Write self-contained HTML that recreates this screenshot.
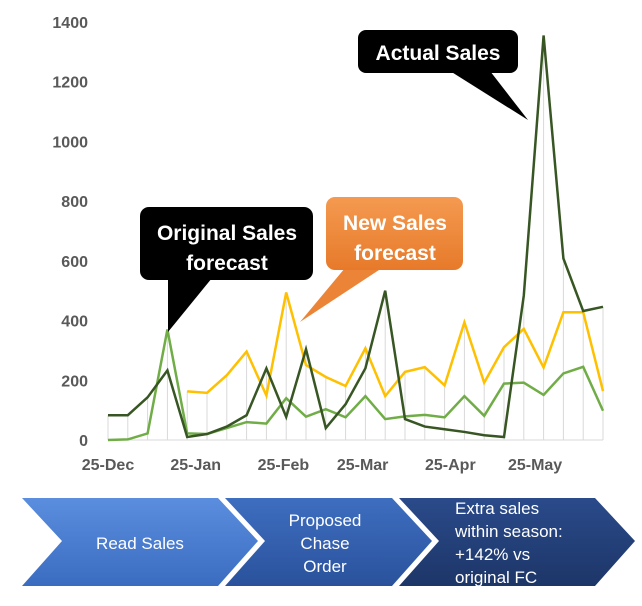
<!DOCTYPE html>
<html><head><meta charset="utf-8"><style>
body{margin:0;background:#fff;}
svg{display:block;font-family:"Liberation Sans",sans-serif;}
</style></head><body>
<svg id="c" width="642" height="606" viewBox="0 0 642 606">
<defs>
<linearGradient id="gb1" x1="0" y1="0" x2="0" y2="1"><stop offset="0" stop-color="#5b8ede"/><stop offset="1" stop-color="#3a6cc0"/></linearGradient>
<linearGradient id="gb2" x1="0" y1="0" x2="0" y2="1"><stop offset="0" stop-color="#3e6ec0"/><stop offset="1" stop-color="#2a529c"/></linearGradient>
<linearGradient id="gb3" x1="0" y1="0" x2="0" y2="1"><stop offset="0" stop-color="#2a4a8a"/><stop offset="1" stop-color="#1d3668"/></linearGradient>
<linearGradient id="go" x1="0" y1="0" x2="0" y2="1"><stop offset="0" stop-color="#f49a50"/><stop offset="1" stop-color="#e77a2a"/></linearGradient>
</defs>
<g id="grid"></g>
<g id="axes"></g>
<g id="series"></g>

<g>
<path d="M168,278 L168,332 L212,278 Z" fill="#000"/>
<rect x="140" y="207" width="173" height="73" rx="9" fill="#000"/>
<text x="227" y="240" fill="#fff" font-size="21" font-weight="bold" text-anchor="middle">Original Sales</text>
<text x="227" y="270" fill="#fff" font-size="21" font-weight="bold" text-anchor="middle">forecast</text>
</g>
<g>
<path d="M345,268 L300,322 L382,268 Z" fill="#ec8437"/>
<rect x="326" y="197" width="137" height="73" rx="9" fill="url(#go)"/>
<text x="395" y="230" fill="#fff" font-size="21" font-weight="bold" text-anchor="middle">New Sales</text>
<text x="395" y="260" fill="#fff" font-size="21" font-weight="bold" text-anchor="middle">forecast</text>
</g>
<g>
<path d="M450,71 L528,120 L490,71 Z" fill="#000"/>
<rect x="358" y="30" width="160" height="43" rx="8" fill="#000"/>
<text x="438" y="60" fill="#fff" font-size="21" font-weight="bold" text-anchor="middle">Actual Sales</text>
</g>

<g>
<path d="M22,498 L218,498 L258,541 L218,586 L22,586 L62,541 Z" fill="url(#gb1)"/>
<path d="M225,498 L392,498 L432,541 L392,586 L225,586 L265,541 Z" fill="url(#gb2)"/>
<path d="M399,498 L595,498 L635,541 L595,586 L399,586 L439,541 Z" fill="url(#gb3)"/>
<text x="140" y="549" fill="#fff" font-size="17" text-anchor="middle">Read Sales</text>
<text x="325" y="526" fill="#fff" font-size="17" text-anchor="middle">Proposed</text>
<text x="325" y="549" fill="#fff" font-size="17" text-anchor="middle">Chase</text>
<text x="325" y="572" fill="#fff" font-size="17" text-anchor="middle">Order</text>
<text x="455" y="514" fill="#fff" font-size="17">Extra sales</text>
<text x="455" y="537" fill="#fff" font-size="17">within season:</text>
<text x="455" y="560" fill="#fff" font-size="17">+142% vs</text>
<text x="455" y="583" fill="#fff" font-size="17">original FC</text>
</g>
</svg>
<script>
const yTicks=[0,200,400,600,800,1000,1200,1400];
const xLabels=["25-Dec","25-Jan","25-Feb","25-Mar","25-Apr","25-May"];
const xLabelWeeks=[0,4.43,8.86,12.86,17.29,21.57];
const actualSales=[83,83,143,233,10,20,45,83,240,77,304,40,120,240,500,70,45,36,27,16,10,484,1355,608,432,446];
const originalForecast=[0,2,22,370,22,20,40,60,55,140,78,103,76,147,70,79,84,76,147,81,189,192,151,223,245,98];
const newForecast=[null,null,null,null,163,158,217,296,149,494,251,211,181,307,147,228,244,183,394,192,311,372,243,428,428,164];
const NS="http://www.w3.org/2000/svg";
const x=i=>108+i*19.8;
const y=v=>440-v*(418/1400);
function mk(tag,attrs,parent){const e=document.createElementNS(NS,tag);for(const k in attrs)e.setAttribute(k,attrs[k]);document.getElementById(parent).appendChild(e);return e;}
for(let i=0;i<actualSales.length;i++){
  const top=Math.max(actualSales[i],originalForecast[i],newForecast[i]||0);
  const g=mk('line',{x1:x(i),x2:x(i),y1:y(0),y2:y(top),stroke:'#d9d9d9','stroke-width':1},'grid');
  
  
}
const ax=mk('line',{x1:x(0),x2:x(actualSales.length-1),y1:y(0),y2:y(0),stroke:'#d9d9d9','stroke-width':1},'axes');


yTicks.forEach(t=>{const e=mk('text',{x:88,y:y(t)+6,'text-anchor':'end','font-size':16,'font-weight':'bold',fill:'#595959'},'axes');e.textContent=t;

});
xLabels.forEach((l,i)=>{const e=mk('text',{x:x(xLabelWeeks[i]),y:470,'text-anchor':'middle','font-size':16,'font-weight':'bold',fill:'#595959'},'axes');e.textContent=l;

});
function line(arr,color,name){let d='';let pen=false;arr.forEach((v,i)=>{if(v==null){pen=false;return;}d+=(pen?'L':'M')+x(i)+','+y(v)+' ';pen=true;});
const p=mk('path',{d:d,fill:'none',stroke:color,'stroke-width':2.5,'stroke-linejoin':'miter'},'series');

}
line(newForecast,'#ffc000','new-forecast-line');
line(originalForecast,'#70ad47','original-forecast-line');
line(actualSales,'#375623','actual-sales-line');
</script>
</body></html>
